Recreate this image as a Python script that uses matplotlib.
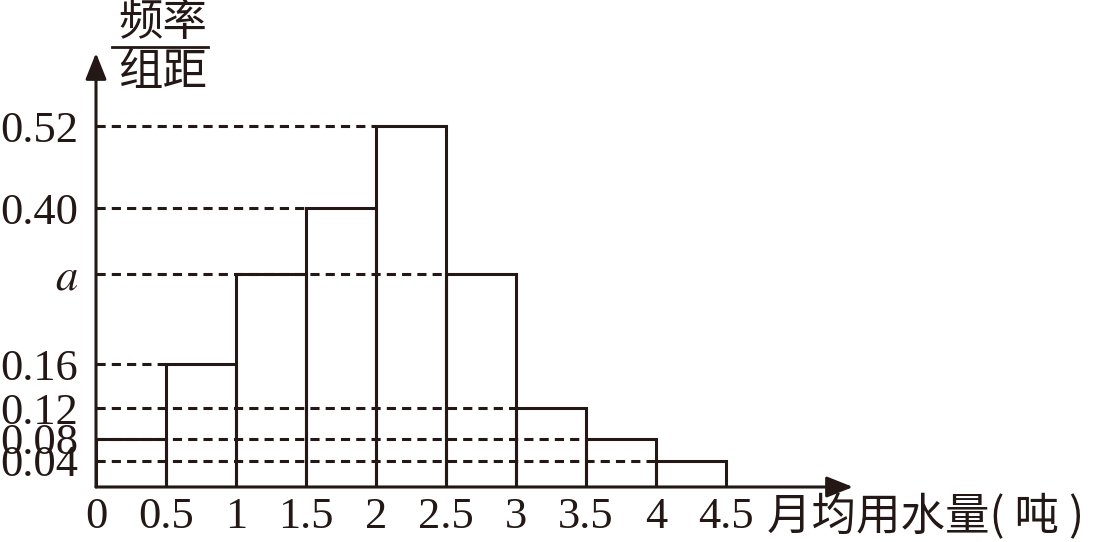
import matplotlib
matplotlib.use('Agg')
import matplotlib.pyplot as plt
from matplotlib.lines import Line2D
import numpy as np

#================================ Data =======================================#

# histogram bins (tons) and frequency/width of each bin
bin_edges = [0, 0.5, 1, 1.5, 2, 2.5, 3, 3.5, 4, 4.5]
a = 0.30  # unknown height "a" (area must sum to 1)
heights = [0.08, 0.16, a, 0.40, 0.52, a, 0.12, 0.08, 0.04]

y_ticks = [0.04, 0.08, 0.12, 0.16, a, 0.40, 0.52]
y_labels = ['0.04', '0.08', '0.12', '0.16', '$a$', '0.40', '0.52']
x_ticks = bin_edges
x_labels = ['0', '0.5', '1', '1.5', '2', '2.5', '3', '3.5', '4', '4.5']

#================================ Style =======================================#

ink = '#231815'
plt.rcParams['mathtext.fontset'] = 'stix'
cjk = ['Noto Sans CJK SC', 'DejaVu Sans']
serif = 'Liberation Serif'

# the textbook drawing is not to scale near the bottom: piecewise mapping value -> pixels
scale_vals = [0, 0.04, 0.08, 0.12, 0.16, 0.30, 0.40, 0.52, 0.627]
scale_pix = [0, 26, 48, 79, 123, 213, 279, 361, 434]
forward = lambda v: np.interp(v, scale_vals, scale_pix)
inverse = lambda p: np.interp(p, scale_pix, scale_vals)

fig = plt.figure(figsize=(11.06, 5.42), dpi=100)
ax = fig.add_axes([96 / 1106, 55 / 542, (853 - 96) / 1106, (487 - 53) / 542])
ax.set_yscale('function', functions=(forward, inverse))
ax.set_xlim(0, (853 - 96) / 140)
ax.set_ylim(0, 0.627)

#================================ Bars =======================================#

left = np.array(bin_edges[:-1])
ax.bar(left, heights, width=0.5, align='edge', fill=False,
       edgecolor=ink, linewidth=2.2, zorder=3)

# dashed guide lines from the y axis to the last bar with that height
for v in y_ticks:
    end = left[np.isclose(heights, v)].max()
    if end > 0:
        ax.plot([0, end], [v, v], color=ink, lw=2.2,
                linestyle=(0, (3.0, 2.0)), zorder=2)

#================================ Axes =======================================#

for s in ax.spines.values():
    s.set_visible(False)

arrow = dict(arrowstyle='-|>,head_length=0.8,head_width=0.32', lw=2.2,
             color=ink, shrinkA=0, shrinkB=0, mutation_scale=20)
ax.annotate('', xy=(1, 0), xytext=(0, 0), xycoords='axes fraction', arrowprops=arrow)
ax.annotate('', xy=(0, 1), xytext=(0, 0), xycoords='axes fraction', arrowprops=arrow)

ax.set_xticks(x_ticks, x_labels)
ax.set_yticks(y_ticks, y_labels)
ax.minorticks_off()
ax.tick_params(axis='x', length=0, pad=7, labelsize=32, labelcolor=ink)
ax.tick_params(axis='y', length=0, pad=13, labelsize=32, labelcolor=ink)
for t in ax.get_xticklabels() + ax.get_yticklabels():
    t.set_fontfamily(serif)

# y title as a fraction: 频率 / 组距
fig.text(163 / 1106, 1 - 22 / 542, '频率', ha='center', va='center',
         fontsize=32, family=cjk, color=ink)
fig.text(163 / 1106, 1 - 72 / 542, '组距', ha='center', va='center',
         fontsize=32, family=cjk, color=ink)
fig.add_artist(Line2D([112 / 1106, 208 / 1106], [1 - 47 / 542] * 2,
                      transform=fig.transFigure, lw=2, color=ink))

fig.text(767 / 1106, 1 - 517 / 542, '月均用水量( 吨 )', ha='left', va='center',
         fontsize=32, family=cjk, color=ink)

fig.savefig('out.png', dpi=100)
